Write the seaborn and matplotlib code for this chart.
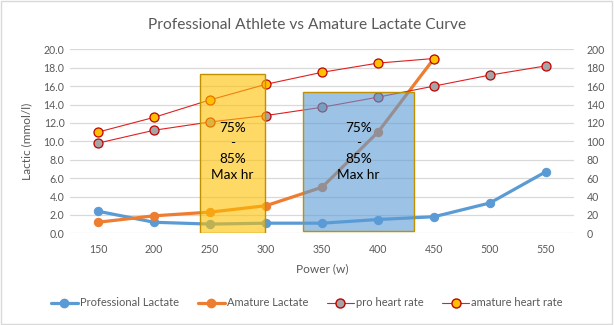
import numpy as np
import pandas as pd
import matplotlib
matplotlib.use("Agg")
import matplotlib.pyplot as plt
from matplotlib.patches import Rectangle
from matplotlib.lines import Line2D
import seaborn as sns

# Power steps (watts)
power = [150, 200, 250, 300, 350, 400, 450, 500, 550]
# Blood lactate (mmol/l)
pro_lactate = [2.4, 1.2, 1.0, 1.1, 1.1, 1.5, 1.8, 3.3, 6.7]
amateur_lactate = [1.2, 1.9, 2.3, 3.0, 5.0, 11.0, 19.0]
# Heart rate (bpm)
pro_hr = [98, 112, 121, 128, 137, 148, 160, 172, 182]
amateur_hr = [110, 126, 145, 162, 175, 185, 190]

series_names = ["Professional Lactate", "Amature Lactate", "pro heart rate", "amature heart rate"]
zone_label = "75%\n-\n85%\nMax hr"
# Heart-rate zone boxes: (start power, end power, bottom lactate, top lactate)
zone_amateur = (241, 299, 0.0, 17.3)
zone_pro = (333, 432, 0.25, 15.35)

sns.set_theme(style="white")
plt.rcParams["font.family"] = ["Lato", "DejaVu Sans"]

GREY_TXT = "#595959"
BLUE = "#5B9BD5"
ORANGE = "#ED7D31"
RED = "#E02020"
GRID = "#D9D9D9"

fig = plt.figure(figsize=(6.14, 3.25), dpi=100)
ax = fig.add_axes([70 / 614, 1 - 233.3 / 325, (574 - 70) / 614, (233.3 - 49.3) / 325])
ax2 = ax.twinx()

pro_df = pd.DataFrame({"power": power, "lactate": pro_lactate, "hr": pro_hr})
am_df = pd.DataFrame({"power": power[:len(amateur_lactate)],
                      "lactate": amateur_lactate, "hr": amateur_hr})

sns.lineplot(data=pro_df, x="power", y="lactate", ax=ax, color=BLUE, lw=2.3,
             marker="o", markersize=6, markeredgecolor=BLUE, zorder=3)
sns.lineplot(data=am_df, x="power", y="lactate", ax=ax, color=ORANGE, lw=2.3,
             marker="o", markersize=6, markeredgecolor=ORANGE, zorder=3)
sns.lineplot(data=pro_df, x="power", y="hr", ax=ax2, color=RED, lw=0.8,
             marker="o", markersize=6.5, markerfacecolor="#A5A5A5",
             markeredgecolor="#C00000", markeredgewidth=0.9, zorder=3)
sns.lineplot(data=am_df, x="power", y="hr", ax=ax2, color=RED, lw=0.8,
             marker="o", markersize=6.5, markerfacecolor="#FFC000",
             markeredgecolor="#C00000", markeredgewidth=0.9, zorder=3)

ax.set_xlim(125, 575)
ax.set_ylim(0, 20)
ax2.set_ylim(0, 200)
ax.set_xticks(power)
ax.set_yticks(np.arange(0, 20.1, 2))
ax.set_yticklabels([f"{v:.1f}" for v in np.arange(0, 20.1, 2)])
ax2.set_yticks(np.arange(0, 201, 20))

ax.grid(axis="y", color=GRID, lw=0.9)
ax.set_axisbelow(True)
for a in (ax, ax2):
    for s in a.spines.values():
        s.set_visible(False)
    a.tick_params(length=0, labelsize=7.6, colors=GREY_TXT, pad=4)
ax.tick_params(axis="x", pad=8)
ax2.tick_params(axis="y", pad=9)

ax.set_xlabel("Power (w)", fontsize=8.6, color=GREY_TXT, labelpad=6)
ax.set_ylabel("Lactic (mmol/l)", fontsize=8.6, color=GREY_TXT, labelpad=8)
ax2.set_ylabel("")

# Zone boxes drawn over the curves, positioned in the lactate/power coordinates
for (x0, x1, y0, y1), face in ((zone_amateur, "#FFC000"), (zone_pro, BLUE)):
    ax2.add_patch(Rectangle((x0, y0), x1 - x0, y1 - y0, transform=ax.transData,
                            facecolor=face, alpha=0.6, edgecolor="none", zorder=5))
    ax2.add_patch(Rectangle((x0, y0), x1 - x0, y1 - y0, transform=ax.transData,
                            facecolor="none", edgecolor="#BF9000", lw=1.0, zorder=6))
    ax2.text((x0 + x1) / 2, 8.9, zone_label, transform=ax.transData, ha="center",
             va="center", fontsize=9.8, color="black", linespacing=1.38, zorder=7)

fig.suptitle("Professional Athlete vs Amature Lactate Curve", x=0.5, y=0.945,
             fontsize=11.2, color=GREY_TXT)

handles = [
    Line2D([], [], color=BLUE, lw=2.3, marker="o", markersize=6),
    Line2D([], [], color=ORANGE, lw=2.3, marker="o", markersize=6),
    Line2D([], [], color=RED, lw=0.8, marker="o", markersize=6.5,
           markerfacecolor="#A5A5A5", markeredgecolor="#C00000"),
    Line2D([], [], color=RED, lw=0.8, marker="o", markersize=6.5,
           markerfacecolor="#FFC000", markeredgecolor="#C00000"),
]
if ax.get_legend():
    ax.get_legend().remove()
fig.legend(handles, series_names, loc="center", bbox_to_anchor=(0.5, 1 - 303 / 325),
           ncol=4, frameon=False, fontsize=8.0, labelcolor=GREY_TXT,
           handlelength=2.4, handletextpad=0.2, columnspacing=1.7)

# Chart border
fig.add_artist(Rectangle((0.002, 0.004), 0.994, 0.992, transform=fig.transFigure,
                         facecolor="none", edgecolor=GRID, lw=1.0))

fig.savefig("out.png", dpi=100)
